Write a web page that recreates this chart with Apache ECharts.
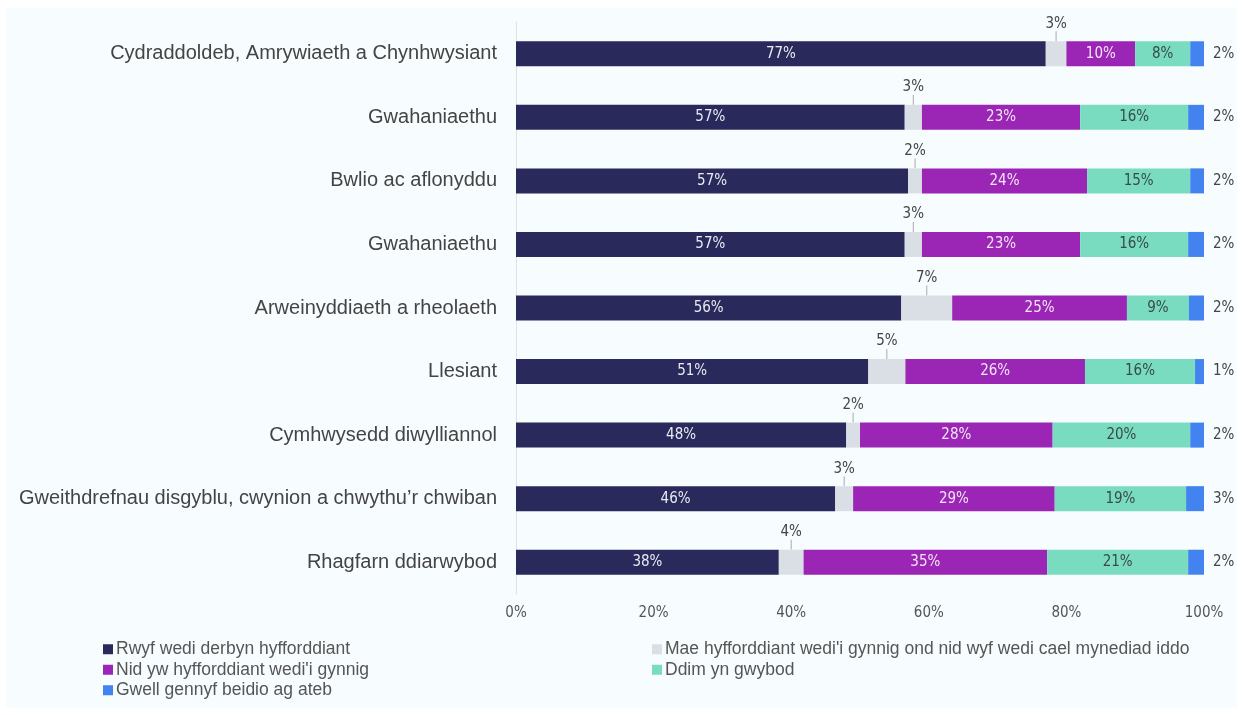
<!DOCTYPE html>
<html>
<head>
<meta charset="utf-8">
<script src="https://cdn.jsdelivr.net/npm/echarts@6/dist/echarts.min.js"></script>
<style>
html,body{margin:0;padding:0;background:#ffffff;}
#wrap{position:absolute;left:0;top:0;width:1243px;height:715px;}
#bg{position:absolute;left:6px;top:8px;width:1231px;height:700px;background:#f7fcfe;}
#chart{position:absolute;left:0;top:0;width:1243px;height:715px;}
</style>
</head>
<body>
<div id="wrap"><div id="bg"></div><div id="chart"></div></div>
<script>
const categories = [
  'Cydraddoldeb, Amrywiaeth a Chynhwysiant',
  'Gwahaniaethu',
  'Bwlio ac aflonyddu',
  'Gwahaniaethu',
  'Arweinyddiaeth a rheolaeth',
  'Llesiant',
  'Cymhwysedd diwylliannol',
  'Gweithdrefnau disgyblu, cwynion a chwythu\u2019r chwiban',
  'Rhagfarn ddiarwybod'
];
const seriesNames = [
  'Rwyf wedi derbyn hyfforddiant',
  "Mae hyfforddiant wedi'i gynnig ond nid wyf wedi cael mynediad iddo",
  "Nid yw hyfforddiant wedi'i gynnig",
  'Ddim yn gwybod',
  'Gwell gennyf beidio ag ateb'
];
const received    = [77, 56.5, 57, 56.5, 56,   51.2, 48, 46.4, 38.2];
const notAccessed = [3,  2.5,  2,  2.5,  7.4,  5.4,  2,  2.6,  3.6];
const notOffered  = [10, 23,   24, 23,   25.4, 26.1, 28, 29.3, 35.4];
const dontKnow    = [8,  15.7, 15, 15.7, 9,    16,   20, 19.1, 20.5];
const preferNot   = [2,  2.3,  2,  2.3,  2.2,  1.3,  2,  2.6,  2.3];
const xTicks = [0, 20, 40, 60, 80, 100];

const colors = ['#29295b', '#d9dfe4', '#9b25b5', '#79dcc0', '#4283ef'];
const font = 'Liberation Sans, Arial, sans-serif';
const narrow = '"Liberation Sans Narrow", "DejaVu Sans Condensed", Arial, sans-serif';
const pct = p => Math.round(p.value) + '%';

const chart = echarts.init(document.getElementById('chart'), null, {renderer: 'canvas'});
const base = {type: 'bar', stack: 'total', barWidth: 25, emphasis: {disabled: true}};
const lbl = (extra) => Object.assign({show: true, position: 'inside', formatter: pct, fontSize: 15, fontFamily: narrow}, extra);
chart.setOption({
  animation: false,
  backgroundColor: 'transparent',
  color: colors,
  textStyle: {fontFamily: font},
  grid: {left: 516, right: 39, top: 22, bottom: 121, containLabel: false},
  legend: {
    left: 98, top: 634, width: 1120,
    itemWidth: 10, itemHeight: 10, itemGap: 0, icon: 'rect',
    data: seriesNames,
    textStyle: {fontSize: 17.5, color: '#555', width: 536, lineHeight: 20.5, fontFamily: font, padding: [0,0,0,-2]}
  },
  xAxis: {
    type: 'value', min: 0, max: 100, interval: 20,
    data: xTicks,
    axisLabel: {formatter: v => v + '%', fontSize: 15, color: '#555', margin: 12, fontFamily: narrow},
    splitLine: {show: false}, axisLine: {show: false}, axisTick: {show: false}
  },
  yAxis: {
    type: 'category', data: categories, inverse: true,
    axisLine: {show: true, lineStyle: {color: '#dde3e7', width: 1}},
    axisTick: {show: false},
    axisLabel: {fontSize: 20, color: '#444', margin: 19, fontFamily: font}
  },
  series: [
    Object.assign({}, base, {name: seriesNames[0], data: received,
      label: lbl({color: '#e9e9f2'})}),
    Object.assign({}, base, {name: seriesNames[1], data: notAccessed,
      label: lbl({color: '#444'}),
      labelLayout: {dy: -30},
      labelLine: {show: true, length2: 0, lineStyle: {color: '#aaa', width: 1}}}),
    Object.assign({}, base, {name: seriesNames[2], data: notOffered,
      label: lbl({color: '#f3e6f6'})}),
    Object.assign({}, base, {name: seriesNames[3], data: dontKnow,
      label: lbl({color: '#3a4a48'})}),
    Object.assign({}, base, {name: seriesNames[4], data: preferNot,
      label: lbl({position: 'right', distance: 9, color: '#444'})})
  ]
});
</script>
</body>
</html>
